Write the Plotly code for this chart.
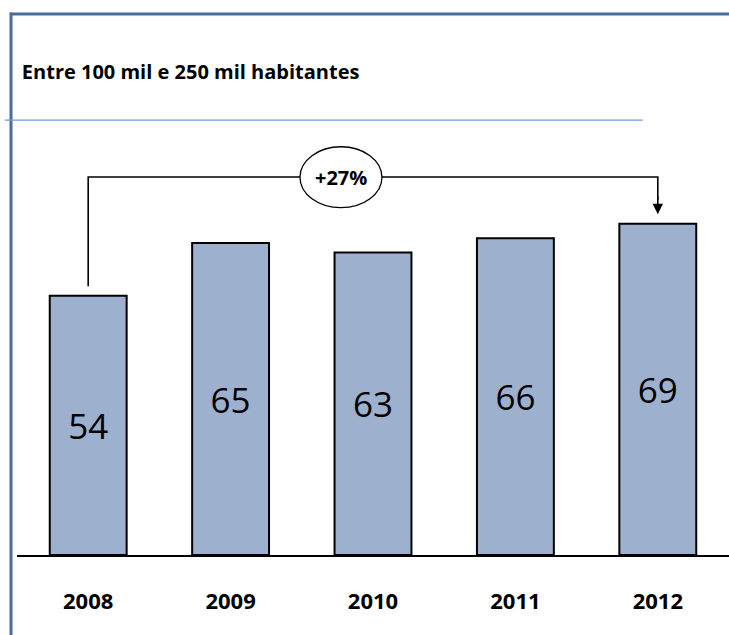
import plotly.graph_objects as go

# Population-band series (number of municipalities per year)
years = ["2008", "2009", "2010", "2011", "2012"]
values = [54, 65, 63, 66, 69]
growth_label = "+27%"
title_text = "Entre 100 mil e 250 mil habitantes"

BAR_FILL = "#9DB0CE"
FRAME_BLUE = "#4A6C9C"
RULE_BLUE = "#6E9BD3"

fig = go.Figure()
fig.add_trace(go.Bar(
    x=list(range(len(years))),
    y=values,
    width=0.54,
    marker=dict(color=BAR_FILL, line=dict(color="black", width=2)),
    text=[str(v) for v in values],
    textposition="inside",
    insidetextanchor="middle",
    textangle=0,
    textfont=dict(family="Open Sans", size=35, color="black"),
    hoverinfo="skip",
))

# Growth connector from first bar to last bar
first_i, last_i = 0, len(values) - 1
bridge_y = max(values) + 9.75
start_y = values[first_i] + 2
end_y = values[last_i] + 2
mid_x = 1.775

shapes = [
    # outer frame (left and top edges)
    dict(type="line", xref="paper", yref="paper", x0=-0.0084, x1=-0.0084,
         y0=1.13, y1=-0.2, line=dict(color=FRAME_BLUE, width=3)),
    dict(type="line", xref="paper", yref="paper", x0=-0.0098, x1=1.0,
         y0=1.127, y1=1.127, line=dict(color=FRAME_BLUE, width=3)),
    # thin rule under the heading
    dict(type="line", xref="paper", yref="paper", x0=-0.017, x1=0.879,
         y0=0.906, y1=0.906, line=dict(color=RULE_BLUE, width=1.2)),
    # connector path
    dict(type="path", xref="x", yref="y",
         path=f"M {first_i},{start_y} L {first_i},{bridge_y} L {last_i},{bridge_y} L {last_i},{end_y + 3}",
         line=dict(color="black", width=1.6)),
    # ellipse badge
    dict(type="circle", xref="x", yref="y",
         x0=mid_x - 0.288, x1=mid_x + 0.288,
         y0=bridge_y - 6.4, y1=bridge_y + 6.3,
         fillcolor="white", line=dict(color="black", width=1.3)),
]

annotations = [
    dict(x=last_i, y=end_y, xref="x", yref="y",
         ax=last_i, ay=end_y + 4, axref="x", ayref="y",
         showarrow=True, arrowhead=2, arrowsize=1.3, arrowwidth=1.6,
         arrowcolor="black", text=""),
    dict(x=mid_x, y=bridge_y, xref="x", yref="y", text=f"<b>{growth_label}</b>",
         showarrow=False, font=dict(family="Open Sans", size=20, color="black")),
]

fig.update_layout(
    width=729, height=635,
    margin=dict(l=17, r=0, t=75, b=80),
    paper_bgcolor="white", plot_bgcolor="white",
    showlegend=False,
    title=dict(text=f"<b>{title_text}</b>", x=0.030, xanchor="left",
               y=1 - 72 / 635, yanchor="middle",
               font=dict(family="Open Sans", size=20, color="black")),
    shapes=shapes,
    annotations=annotations,
    bargap=0.46,
)
fig.update_xaxes(
    range=[-0.5, 4.5],
    tickmode="array", tickvals=list(range(len(years))),
    ticktext=[f"<b>{y}</b>" for y in years],
    tickfont=dict(family="Open Sans", size=22, color="black"),
    showline=True, linecolor="black", linewidth=2,
    showgrid=False, zeroline=False, ticks="",
    ticklabelstandoff=26,
)
fig.update_yaxes(range=[0, 100], visible=False, showgrid=False, zeroline=False)

fig.write_html("out.html")
